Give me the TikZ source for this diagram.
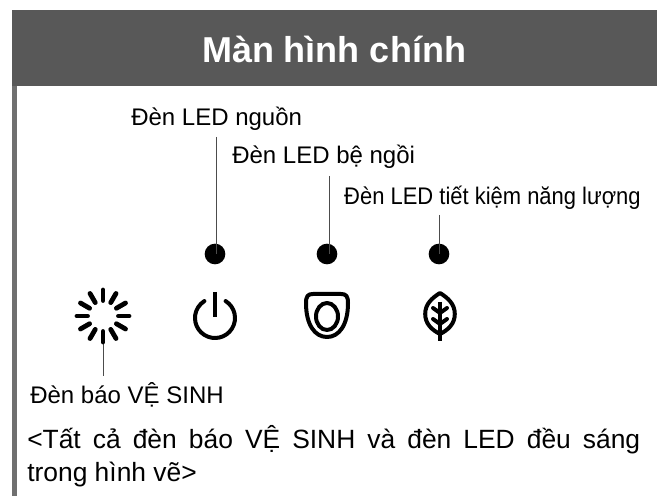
\documentclass[tikz,border=0pt]{standalone}
\usepackage{fontspec}
\setmainfont{Liberation Sans}
\tikzset{
  label/.style={inner sep=0pt, anchor=base west, font=\fontsize{18}{22}\selectfont},
  note/.style={inner sep=0pt, anchor=base west, font=\fontsize{19.8}{24}\selectfont},
  ledline/.style={draw=black!70, line width=0.75pt},
  leddot/.style={circle, fill=black, inner sep=0pt, minimum size=15.5pt},
  iconline/.style={line width=3pt, line cap=round, line join=round},
  tick/.style={line width=3.6pt, line cap=round},
}
\begin{document}
\begin{tikzpicture}[x=0.75pt, y=0.75pt]
\definecolor{header}{RGB}{88,88,88}
\definecolor{sidebar}{RGB}{112,112,112}
\useasboundingbox (0,0) rectangle (657,496);

\fill [header] (12,410) rectangle (657,486);
\fill [sidebar] (12,0) rectangle (17,410);
\node (title) [inner sep=0pt, text=white, font=\bfseries\fontsize{27}{32}\selectfont] at (334,447) {Màn hình chính};

\node (pwrlabel) [label] at (131,370) {Đèn LED nguồn};
\node (seatlabel) [label] at (232,332) {Đèn LED bệ ngồi};
\node (ecolabel) [label, xscale=0.915, transform shape] at (344,291) {Đèn LED tiết kiệm năng lượng};
\node (cleanlabel) [label] at (30,92) {Đèn báo VỆ SINH};

\node (pwrdot) [leddot] at (215,242) {};
\node (seatdot) [leddot] at (327,242) {};
\node (ecodot) [leddot] at (439,242) {};

\coordinate (pwrtop) at (216,359);
\coordinate (seattop) at (329,320);
\coordinate (ecotop) at (439,281);
\coordinate (cleantop) at (103,152);
\coordinate (cleanend) at (103,120);

\draw [ledline] (pwrtop) -- (pwrtop |- pwrdot);
\draw [ledline] (seattop) -- (seattop |- seatdot);
\draw [ledline] (ecotop) -- (ecotop |- ecodot);
\draw [ledline] (cleantop) -- (cleanend);

% cleaning indicator
\begin{scope}[shift={(103,180)}]
\foreach \a in {0,30,...,330}
  \draw [tick] (\a:15.5) -- (\a:26);
\end{scope}

% power
\begin{scope}[shift={(215,178)}]
\draw [iconline, line cap=butt, line width=3.3pt] (0,26) -- (0,1);
\draw [iconline] (58:20) arc (58:-238:20);
\end{scope}

% seat
\begin{scope}[shift={(327,180)}]
\draw [iconline] (-14,22) -- (14,22) .. controls (19,22) and (21,20) .. (21,13)
  .. controls (21,-9) and (12,-21) .. (0,-21)
  .. controls (-12,-21) and (-21,-9) .. (-21,13)
  .. controls (-21,20) and (-19,22) .. (-14,22) -- cycle;
\draw [iconline] (0,-0.5) ellipse [x radius=11, y radius=13.5];
\end{scope}

% leaf
\begin{scope}[shift={(440,180)}]
\draw [iconline] (0,23) .. controls (8,18) and (14.8,12) .. (14.8,2)
  .. controls (14.8,-8) and (8,-14) .. (0,-18)
  .. controls (-8,-14) and (-14.8,-8) .. (-14.8,2)
  .. controls (-14.8,12) and (-8,18) .. (0,23) -- cycle;
\draw [iconline, line cap=butt] (0,14) -- (0,-25);
\draw [iconline] (0,3) -- (7,8);
\draw [iconline] (0,3) -- (-7,8);
\draw [iconline] (0,-8) -- (7,-3);
\draw [iconline] (0,-8) -- (-7,-3);
\end{scope}

\node (noteone) [note] at (27,47) {\hbox to 459.75pt{<Tất\hfill cả\hfill đèn\hfill báo\hfill VỆ\hfill SINH\hfill và\hfill đèn\hfill LED\hfill đều\hfill sáng}};
\node (notetwo) [note] at (27,14) {trong hình vẽ>};
\end{tikzpicture}
\end{document}
